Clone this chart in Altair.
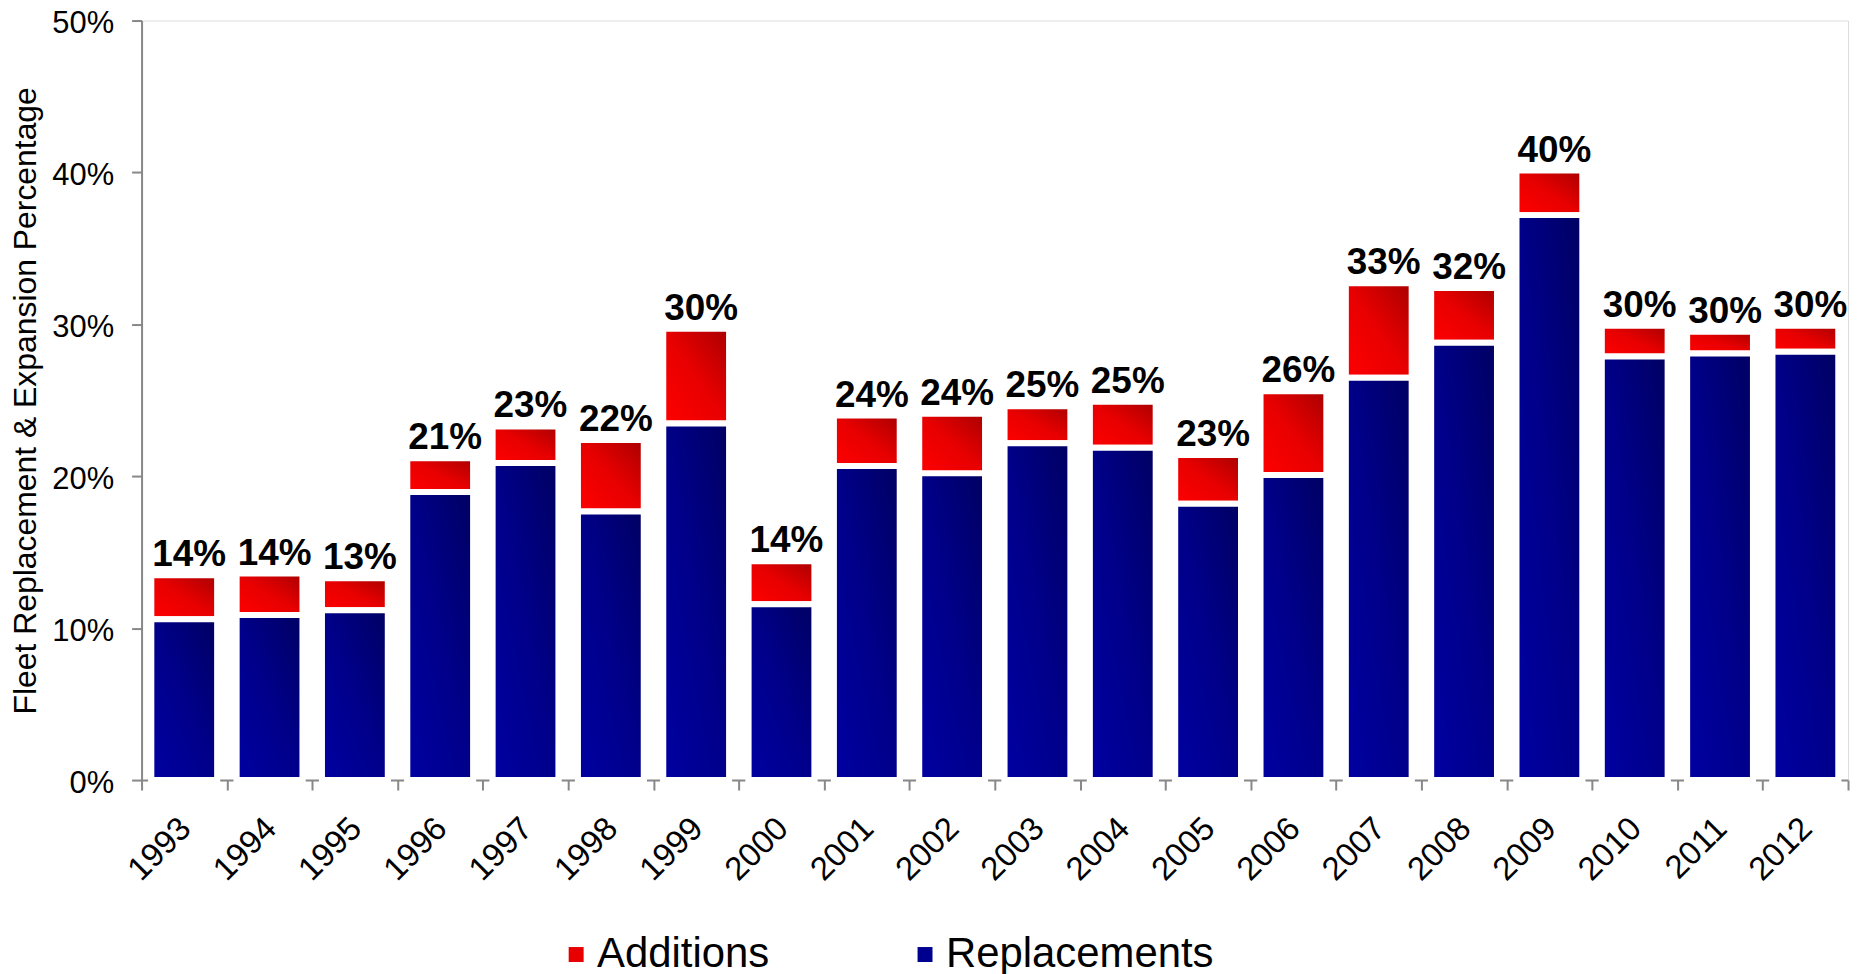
import altair as alt
import pandas as pd

years = [str(y) for y in range(1993, 2013)]
replacements = [10.58, 10.87, 11.18, 18.97, 20.88, 17.68, 23.47, 11.57, 20.67, 20.19,
                22.17, 21.88, 18.19, 20.08, 26.49, 28.79, 37.19, 27.89, 28.08, 28.20]
additions = [2.90, 2.72, 2.10, 2.21, 2.40, 4.70, 6.24, 2.83, 3.33, 3.92,
             2.44, 3.02, 3.21, 5.51, 6.21, 3.61, 2.93, 2.01, 1.43, 1.70]
labels = ["14%", "14%", "13%", "21%", "23%", "22%", "30%", "14%", "24%", "24%",
          "25%", "25%", "23%", "26%", "33%", "32%", "40%", "30%", "30%", "30%"]
series = ["Additions", "Replacements"]
y_ticks = [0, 10, 20, 30, 40, 50]

rows = []
for yr, r, a in zip(years, replacements, additions):
    rows.append({"year": yr, "series": "Replacements", "y0": 0.0, "y1": r})
    rows.append({"year": yr, "series": "Additions", "y0": r, "y1": round(r + a, 2)})
bars = pd.DataFrame(rows)
totals = pd.DataFrame({"year": years,
                       "total": [round(r + a, 2) for r, a in zip(replacements, additions)],
                       "label": labels})

FONT = "Liberation Sans"
AXIS_GREY = "#888888"

x_enc = alt.X("year:N", sort=years,
              scale=alt.Scale(paddingInner=0, paddingOuter=0),
              axis=alt.Axis(title=None, labelAngle=-45, labelAlign="right",
                            labelBaseline="middle", labelFontSize=33, labelFont=FONT,
                            labelColor="black", labelPadding=33, labelOffset=1,
                            tickBand="extent",
                            tickSize=10, tickWidth=2, tickColor=AXIS_GREY,
                            domainColor=AXIS_GREY, domainWidth=2))

y_axis = alt.Axis(title="Fleet Replacement & Expansion Percentage", titleFontSize=32,
                  titleFont=FONT, titleFontWeight="normal", titleColor="black",
                  titlePadding=9, values=y_ticks, labelExpr="datum.value + '%'",
                  labelFontSize=31, labelFont=FONT, labelColor="black", labelPadding=18,
                  labelOffset=3,
                  grid=False, tickSize=10, tickWidth=2, tickColor=AXIS_GREY,
                  domainColor=AXIS_GREY, domainWidth=2)
y_scale = alt.Scale(domain=[0, 50], nice=False)

red_grad = alt.LinearGradient(gradient="linear", x1=0, y1=1, x2=1, y2=0,
                              stops=[alt.GradientStop(color="#ff0000", offset=0),
                                     alt.GradientStop(color="#e80000", offset=0.5),
                                     alt.GradientStop(color="#a80000", offset=1)])
blue_grad = alt.LinearGradient(gradient="linear", x1=0, y1=1, x2=1, y2=0,
                               stops=[alt.GradientStop(color="#0000a2", offset=0),
                                      alt.GradientStop(color="#00008a", offset=0.5),
                                      alt.GradientStop(color="#000062", offset=1)])

bar_kw = dict(size=66, stroke="white", strokeWidth=6)

base = alt.Chart(bars).mark_bar(**bar_kw).encode(
    x=x_enc,
    y=alt.Y("y0:Q", scale=y_scale, axis=y_axis),
    y2="y1:Q",
    color=alt.Color("series:N",
                    scale=alt.Scale(domain=series, range=["#e80000", "#000090"]),
                    legend=alt.Legend(orient="none", legendX=415, legendY=916,
                                      direction="horizontal", title=None,
                                      symbolType="square", symbolSize=225,
                                      symbolStrokeWidth=0, labelFontSize=42,
                                      labelFont=FONT, labelColor="black",
                                      labelLimit=0, labelOffset=0,
                                      columnPadding=135, padding=0)),
)

red_layer = alt.Chart(bars).transform_filter(alt.datum.series == "Additions").mark_bar(
    fill=red_grad, **bar_kw).encode(
    x=x_enc, y=alt.Y("y0:Q", scale=y_scale, axis=y_axis), y2="y1:Q")

blue_layer = alt.Chart(bars).transform_filter(alt.datum.series == "Replacements").mark_bar(
    fill=blue_grad, **bar_kw).encode(
    x=x_enc, y=alt.Y("y0:Q", scale=y_scale, axis=y_axis), y2="y1:Q")

text_layer = alt.Chart(totals).mark_text(
    font=FONT, fontSize=37, fontWeight="bold", color="black",
    baseline="alphabetic", align="center", dy=-9, dx=5).encode(
    x=x_enc, y=alt.Y("total:Q", scale=y_scale, axis=y_axis), text="label:N")

chart = alt.layer(base, red_layer, blue_layer, text_layer).properties(
    width=1712, height=762,
    autosize=alt.AutoSizeParams(type="none"),
    padding={"left": 134, "top": 11, "right": 10, "bottom": 200},
).configure_view(stroke=None).configure(font=FONT, background="white")

chart.save("out.html", embed_options={"renderer": "svg", "actions": False})
